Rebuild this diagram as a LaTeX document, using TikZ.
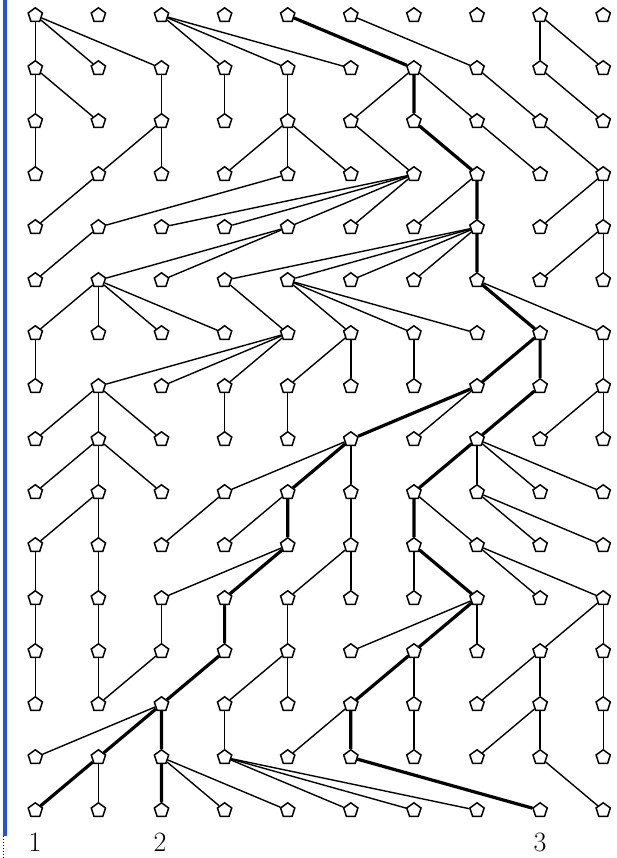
\documentclass[tikz,border=0pt]{standalone}
\usepackage{tikz}
\usetikzlibrary{shapes.geometric,positioning}
\definecolor{edgeblue}{RGB}{30,80,250}

\begin{document}
\begin{tikzpicture}[x=1pt,y=-1pt,
  indiv/.style={draw,regular polygon,regular polygon sides=5,minimum size=15pt,inner sep=0pt,fill=white,line width=1.5pt},
  link/.style={line width=1.4pt},
  lineage/.style={line width=3.2pt},
  sample/.style={inner sep=0pt,font=\fontsize{28}{28}\selectfont}]
\useasboundingbox (0,0) rectangle (616,858);
\draw[edgeblue,line width=3.5pt] (5,0) -- (5,836);
\draw[dotted,line width=1pt] (3,836) -- (3,858);
% individuals, generation \r, position \c
\foreach \r in {0,...,15}
  \foreach \c in {0,...,9}
    \node[indiv] (n\r-\c) at ({35.3+63.1*\c},{15.3+53*\r}) {};
% parent of each individual in the generation above
\foreach \r/\plist in {1/{0,0,0,2,2,2,4,5,8,8},2/{0,0,2,3,4,6,6,6,7,8},3/{0,2,2,4,4,4,5,6,7,8},
  4/{1,4,6,6,6,6,7,7,9,9},5/{1,4,4,7,7,7,7,7,9,9},6/{1,1,1,1,3,4,4,4,7,7},7/{0,4,4,4,5,5,6,8,8,9},
  8/{1,1,1,3,4,7,7,8,9,9},9/{1,1,1,5,5,5,7,7,7,7},10/{1,1,3,4,4,5,6,6,7,7},11/{0,1,4,4,5,5,6,6,7,7},
  12/{0,1,2,3,4,7,7,7,9,9},13/{0,1,3,4,4,6,6,8,8,9},14/{2,2,2,3,5,5,6,8,8,9},15/{1,1,2,2,2,3,3,3,5,8}}{
  \pgfmathtruncatemacro\q{\r-1}
  \foreach \p [count=\c from 0] in \plist
    \draw[link] (n\q-\p) -- (n\r-\c);
}
\draw[link] (n12-2) -- (n13-1);
% ancestry of the three samples
\draw[lineage] (n15-0) -- (n14-1) -- (n13-2);
\draw[lineage] (n15-2) -- (n14-2) -- (n13-2) -- (n12-3) -- (n11-3) -- (n10-4) -- (n9-4) -- (n8-5)
  -- (n7-7) -- (n6-8) -- (n5-7) -- (n4-7) -- (n3-7) -- (n2-6) -- (n1-6) -- (n0-4);
\draw[lineage] (n15-8) -- (n14-5) -- (n13-5) -- (n12-6) -- (n11-7) -- (n10-6) -- (n9-6) -- (n8-7)
  -- (n7-8) -- (n6-8);
\node[sample] (s1) at (35,842) {1};
\node[sample] (s2) at (160,842) {2};
\node[sample] (s3) at (540,842) {3};
\end{tikzpicture}
\end{document}
